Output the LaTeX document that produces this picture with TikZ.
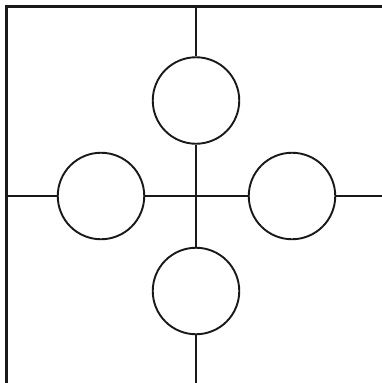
\documentclass[tikz,border=0pt]{standalone}
\begin{document}
\begin{tikzpicture}[x=1pt,y=-1pt,
  ring/.style={draw=black!90,line width=1.9pt,circle,minimum size=86.5pt,inner sep=0pt,fill=white},
  wire/.style={draw=black!90,line width=2.1pt}]
\useasboundingbox (0,0) rectangle (382,383);
\coordinate (tl) at (6.5,6.5);
\coordinate (tr) at (382,6.5);
\coordinate (bl) at (6.5,383);
\coordinate (vt) at (196,6.5);
\coordinate (vb) at (196,383);
\coordinate (hl) at (6.5,196);
\coordinate (hr) at (382,196);
\draw[wire,line cap=rect] (bl) -- (tl) -- (tr);
\node[ring] (top) at (196,100.5) {};
\node[ring] (bot) at (196,291) {};
\node[ring] (lft) at (101,196) {};
\node[ring] (rgt) at (292,196) {};
\draw[wire] (vt) -- (top);
\draw[wire] (top) -- (bot);
\draw[wire] (bot) -- (vb);
\draw[wire] (hl) -- (lft);
\draw[wire] (lft) -- (rgt);
\draw[wire] (rgt) -- (hr);
\end{tikzpicture}
\end{document}
